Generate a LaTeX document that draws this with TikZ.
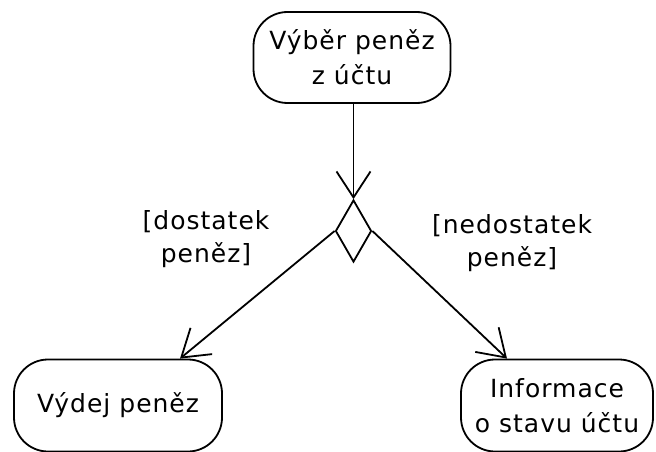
\documentclass[tikz,border=0pt]{standalone}
\usepackage{fontspec}
\setmainfont[LetterSpace=4]{DejaVu Sans}
\usetikzlibrary{shapes.geometric,arrows.meta}

\begin{document}
\begin{tikzpicture}[x=1pt, y=-1pt, line width=1.8pt,
        akce/.style={draw, rectangle, rounded corners=34pt, align=center, font=\fontsize{25}{35}\selectfont},
        tok/.style={-{Straight Barb[length=26pt, width=34pt, line width=1.8pt]}},
        podminka/.style={align=center, font=\fontsize{25}{33}\selectfont}]

        \useasboundingbox (0, 0) rectangle (656, 452);

        \node[name=vyber, akce, minimum width=197pt, minimum height=91pt] at (352, 57.5) {Výběr peněz\\z účtu};
        \node[name=rozhod, draw, diamond, inner sep=0pt, minimum width=36pt, minimum height=62pt] at (353.5, 231) {};
        \node[name=vydej, akce, minimum width=208pt, minimum height=92pt] at (118, 405.5) {Výdej peněz};
        \node[name=info, akce, minimum width=192pt, minimum height=92pt] at (557, 405.5) {Informace\\o stavu účtu};

        \node[name=dost, podminka] at (206, 239) {[dostatek\\peněz]};
        \node[name=nedost, podminka] at (512, 243) {[nedostatek\\peněz]};

        \draw[tok] (vyber.south -| rozhod.north) -- (rozhod.north);
        \draw[tok] (rozhod.west) -- ([xshift=62pt]vydej.north);
        \draw[tok] (rozhod.east) -- ([xshift=-50pt]info.north);
    \end{tikzpicture}
\end{document}
